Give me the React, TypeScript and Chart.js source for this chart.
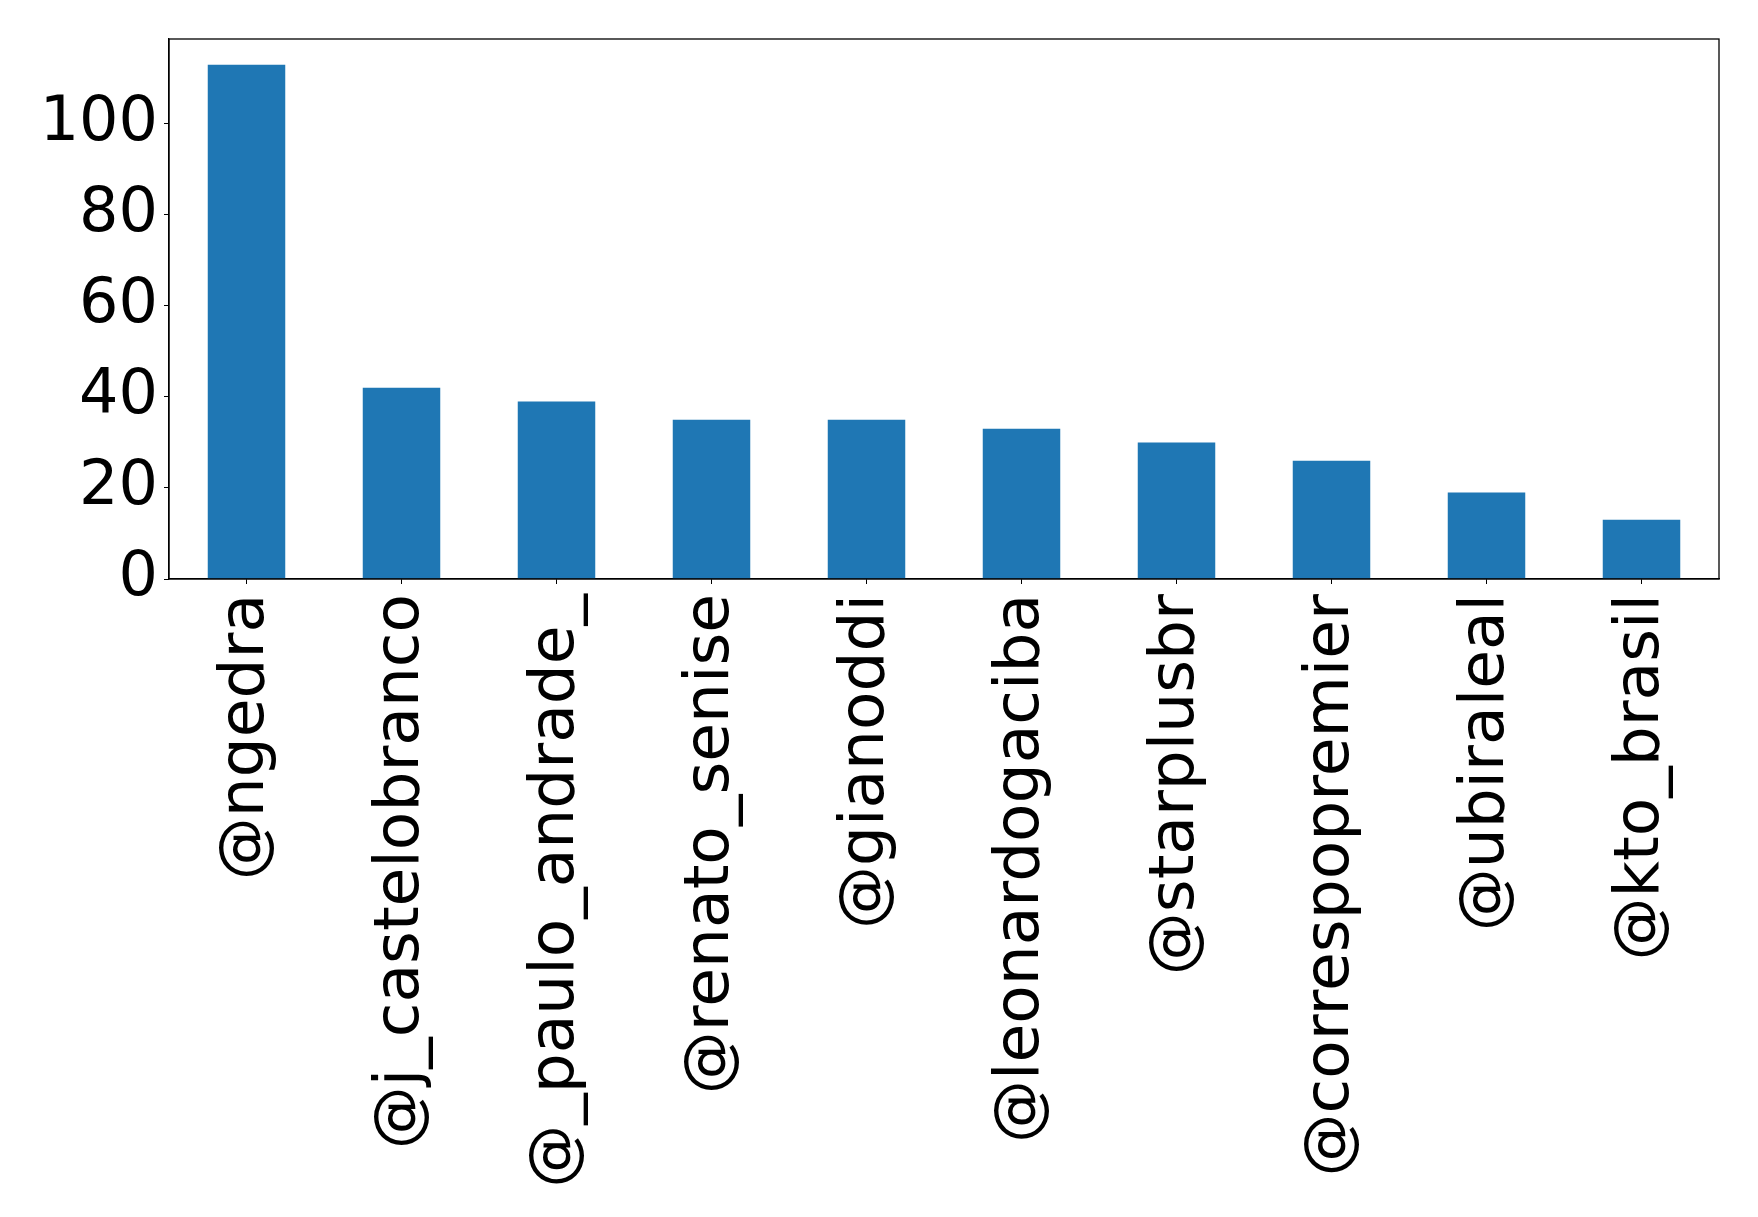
import React, { useEffect, useRef } from "react";
import { Chart, registerables } from "chart.js";

Chart.register(...registerables);

const categories = [
  "@ngedra",
  "@j_castelobranco",
  "@_paulo_andrade_",
  "@renato_senise",
  "@gianoddi",
  "@leonardogaciba",
  "@starplusbr",
  "@correspopremier",
  "@ubiraleal",
  "@kto_brasil",
];
const counts = [113, 42, 39, 35, 35, 33, 30, 26, 19, 13];
const yTicks = [0, 20, 40, 60, 80, 100];

const W = 1758;
const H = 1217;
const FONT = "'DejaVu Sans', 'Liberation Sans', sans-serif";

const framePlugin = {
  id: "frame",
  afterDraw(chart: any) {
    const { ctx, chartArea } = chart;
    ctx.save();
    ctx.strokeStyle = "#000";
    ctx.lineWidth = 1.3;
    ctx.strokeRect(chartArea.left, chartArea.top, chartArea.right - chartArea.left, chartArea.bottom - chartArea.top);
    ctx.restore();
  },
};

export default function App() {
  const ref = useRef<HTMLCanvasElement | null>(null);
  useEffect(() => {
    if (!ref.current) return;
    const yMax = Math.max(...counts) * 1.05;
    const chart = new Chart(ref.current, {
      type: "bar",
      data: {
        labels: categories,
        datasets: [
          {
            data: counts,
            backgroundColor: "#1f77b4",
            barPercentage: 0.5,
            categoryPercentage: 1.0,
          },
        ],
      },
      options: {
        responsive: false,
        animation: false,
        layout: { padding: { top: 39, right: 39, left: 0, bottom: 0 } },
        plugins: { legend: { display: false }, tooltip: { enabled: false } },
        scales: {
          x: {
            offset: true,
            grid: { display: true, drawOnChartArea: false, drawTicks: true, tickLength: 5, color: "#000", offset: false },
            border: { display: true, color: "#000", width: 1.3 },
            ticks: {
              color: "#000",
              font: { family: FONT, size: 63 },
              minRotation: 90,
              maxRotation: 90,
              autoSkip: false,
              padding: 10,
            },
            afterFit(scale: any) {
              scale.height = H - 579;
              scale.paddingLeft = 0;
              scale.paddingRight = 0;
            },
          },
          y: {
            min: 0,
            max: yMax,
            grid: { display: true, drawOnChartArea: false, drawTicks: true, tickLength: 5, color: "#000" },
            border: { display: true, color: "#000", width: 1.3 },
            ticks: {
              color: "#000",
              font: { family: FONT, size: 62 },
              stepSize: 20,
              includeBounds: false,
              padding: 6,
            },
            afterBuildTicks(scale: any) {
              scale.ticks = yTicks.map((v) => ({ value: v }));
            },
            afterFit(scale: any) {
              scale.width = 169;
              scale.paddingTop = 0;
              scale.paddingBottom = 0;
            },
          },
        },
      },
      plugins: [framePlugin],
    });
    return () => chart.destroy();
  }, []);
  return (
    <div style={{ position: "fixed", left: 0, top: 0, width: W, height: H, background: "#fff" }}>
      <canvas ref={ref} width={W} height={H} style={{ width: W, height: H, display: "block" }} />
    </div>
  );
}
